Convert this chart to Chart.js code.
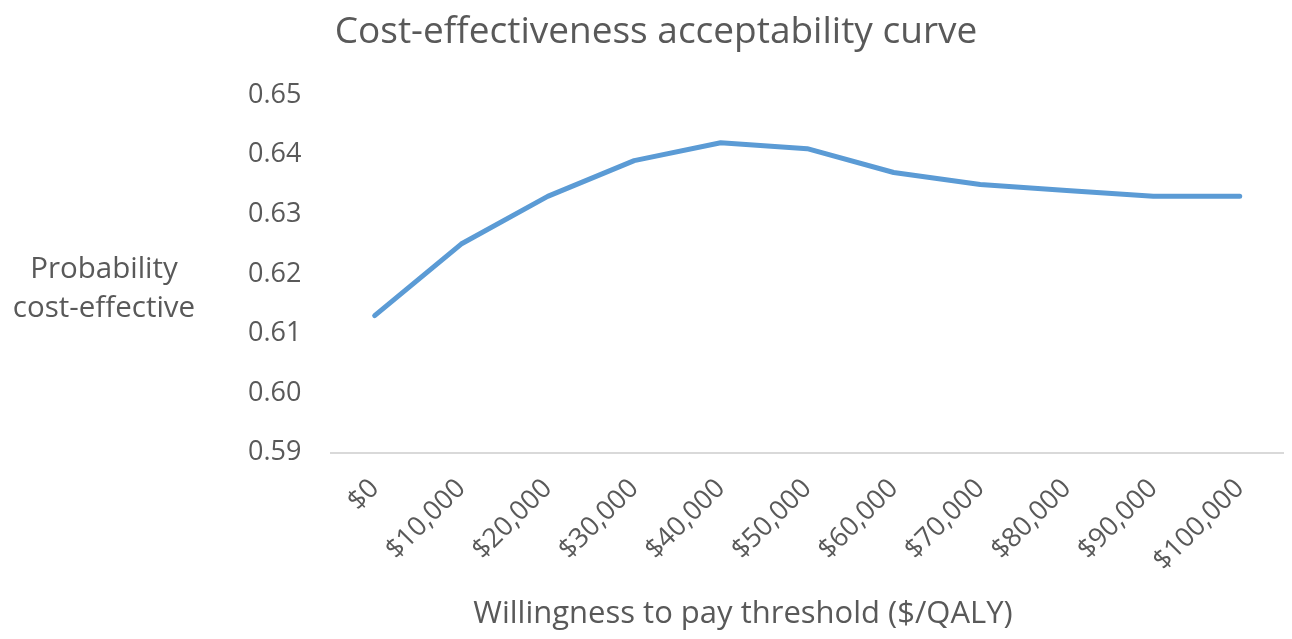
<!DOCTYPE html>
<html>
<head>
<meta charset="utf-8">
<script src="https://cdn.jsdelivr.net/npm/chart.js@4"></script>
<style>
html,body{margin:0;padding:0;background:#fff;}
#wrap{width:1292px;height:639px;}
</style>
</head>
<body>
<div id="wrap"><canvas id="c" width="1292" height="639"></canvas></div>
<script>
const categories = ["$0","$10,000","$20,000","$30,000","$40,000","$50,000","$60,000","$70,000","$80,000","$90,000","$100,000"];
const probability = [0.613,0.625,0.633,0.639,0.642,0.641,0.637,0.635,0.634,0.633,0.633];
const yTitleLines = ["Probability","cost-effective"];
const chartTitle = "Cost-effectiveness acceptability curve";
const xTitle = "Willingness to pay threshold ($/QALY)";

const FONT = "'Open Sans', sans-serif";
const TXT = "#595959";

const textPlugin = {
  id: 'texts',
  afterDraw(chart) {
    const ctx = chart.ctx;
    const area = chart.chartArea;
    ctx.save();
    ctx.fillStyle = TXT;
    ctx.textAlign = "center";
    ctx.textBaseline = "alphabetic";
    // main title
    ctx.font = "37px " + FONT;
    ctx.fillText(chartTitle, 656, 43);
    // y title (horizontal, two lines)
    ctx.font = "29.5px " + FONT;
    const cy = (area.top + area.bottom) / 2;
    ctx.fillText(yTitleLines[0], 104, cy + 4);
    ctx.fillText(yTitleLines[1], 104, cy + 43);
    // x title
    ctx.font = "31px " + FONT;
    ctx.fillText(xTitle, 743, 623);
    ctx.restore();
  }
};

new Chart(document.getElementById('c'), {
  type: 'line',
  data: {
    labels: categories,
    datasets: [{
      data: probability,
      borderColor: '#5B9BD5',
      borderWidth: 5,
      borderCapStyle: 'round',
      borderJoinStyle: 'round',
      pointRadius: 0,
      tension: 0,
      fill: false
    }]
  },
  options: {
    responsive: false,
    animation: false,
    devicePixelRatio: 1,
    layout: { padding: { left: 218, right: 9, top: 95, bottom: 42 } },
    plugins: {
      legend: { display: false },
      tooltip: { enabled: false },
      title: { display: false }
    },
    scales: {
      x: {
        offset: true,
        grid: { display: false, drawTicks: false },
        border: { display: true, color: '#d9d9d9', width: 2 },
        ticks: {
          color: TXT,
          font: { family: FONT, size: 27 },
          maxRotation: 45, minRotation: 45,
          padding: 20,
          autoSkip: false
        }
      },
      y: {
        min: 0.59, max: 0.65,
        grid: { display: false, drawTicks: false },
        border: { display: false },
        ticks: {
          stepSize: 0.01,
          color: TXT,
          font: { family: FONT, size: 27 },
          padding: 30,
          callback: v => v.toFixed(2)
        }
      }
    }
  },
  plugins: [textPlugin]
});
</script>
</body>
</html>
